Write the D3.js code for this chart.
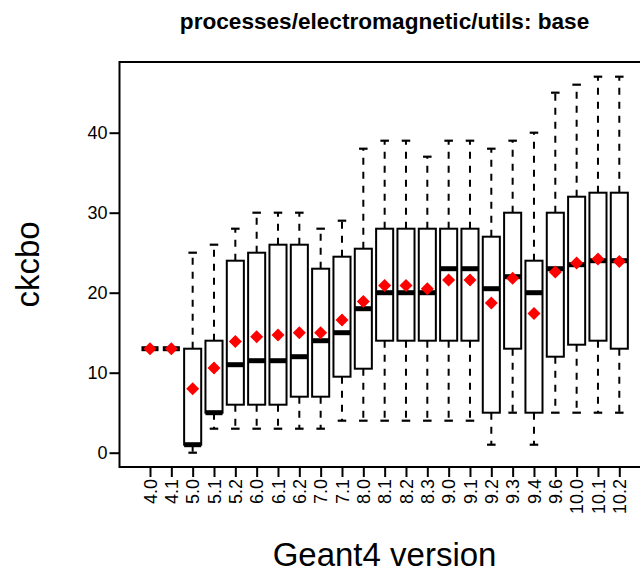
<!DOCTYPE html>
<html>
<head>
<meta charset="utf-8">
<script src="https://cdn.jsdelivr.net/npm/d3@7"></script>
<style>
  html, body { margin: 0; padding: 0; background: #fff; }
  svg { display: block; font-family: "Liberation Sans", Arial, Helvetica, sans-serif; }
</style>
</head>
<body>
<svg id="chart" width="640" height="572"></svg>
<script>
// ---- data ----
const versions = ["4.0","4.1","5.0","5.1","5.2","6.0","6.1","6.2","7.0","7.1","8.0","8.1","8.2","8.3","9.0","9.1","9.2","9.3","9.4","9.6","10.0","10.1","10.2"];
const whiskerLow  = [13,13,0,3,3,3,3,3,3,4,4,4,4,4,4,4,1,5,1,5,5,5,5];
const q1          = [13,13,1,5,6,6,6,7,7,9.5,10.5,14,14,14,14,14,5,13,5,12,13.5,14,13];
const medians     = [13,13,1,5,11,11.5,11.5,12,14,15,18,20,20,20,23,23,20.5,22,20,23,23.5,24,24];
const q3          = [13,13,13,14,24,25,26,26,23,24.5,25.5,28,28,28,28,28,27,30,24,30,32,32.5,32.5];
const whiskerHigh = [13,13,25,26,28,30,30,30,28,29,38,39,39,37,39,39,38,39,40,45,46,47,47];
const means       = [13,13,8,10.6,13.9,14.5,14.7,15,15,16.6,18.9,20.9,20.9,20.5,21.6,21.6,18.7,21.8,17.4,22.6,23.7,24.2,23.9];
const yTicks = [0,10,20,30,40];
const titleText = "processes/electromagnetic/utils: base";
const xLabel = "Geant4 version";
const yLabel = "ckcbo";

// ---- layout ----
const frame = { left: 119.5, right: 649.6, top: 62, bottom: 467 };
const svg = d3.select("#chart");

const x = d3.scalePoint().domain(versions).range([150, 619.3]);
const y = d3.scaleLinear().domain([0, 40]).range([452.7, 132.7]);
const step = x.step();
const boxHalf = step * 0.4;
const capHalf = boxHalf * 0.5;

const data = versions.map((v, i) => ({
  v, lo: whiskerLow[i], q1: q1[i], med: medians[i], q3: q3[i], hi: whiskerHigh[i], mean: means[i]
}));

const g = svg.append("g");

// whiskers (dashed)
g.selectAll("line.wl").data(data).join("line")
  .attr("x1", d => x(d.v)).attr("x2", d => x(d.v))
  .attr("y1", d => y(d.q1)).attr("y2", d => y(d.lo))
  .attr("stroke", "#000").attr("stroke-width", 2).attr("stroke-dasharray", "7,7");
g.selectAll("line.wh").data(data).join("line")
  .attr("x1", d => x(d.v)).attr("x2", d => x(d.v))
  .attr("y1", d => y(d.q3)).attr("y2", d => y(d.hi))
  .attr("stroke", "#000").attr("stroke-width", 2).attr("stroke-dasharray", "7,7");
// staples
["lo","hi"].forEach(k => {
  g.selectAll("line.cap" + k).data(data).join("line")
    .attr("x1", d => x(d.v) - capHalf).attr("x2", d => x(d.v) + capHalf)
    .attr("y1", d => y(d[k])).attr("y2", d => y(d[k]))
    .attr("stroke", "#000").attr("stroke-width", 2.2);
});
// boxes
g.selectAll("rect.box").data(data).join("rect")
  .attr("x", d => x(d.v) - boxHalf).attr("width", boxHalf * 2)
  .attr("y", d => y(d.q3)).attr("height", d => y(d.q1) - y(d.q3))
  .attr("fill", "#fff").attr("stroke", "#000").attr("stroke-width", 2);
// medians
g.selectAll("line.med").data(data).join("line")
  .attr("x1", d => x(d.v) - boxHalf).attr("x2", d => x(d.v) + boxHalf)
  .attr("y1", d => y(d.med)).attr("y2", d => y(d.med))
  .attr("stroke", "#000").attr("stroke-width", 5);
// means (red diamonds)
g.selectAll("path.mean").data(data).join("path")
  .attr("transform", d => `translate(${x(d.v)},${y(d.mean)})`)
  .attr("d", "M0,-6.5L6.5,0L0,6.5L-6.5,0Z")
  .attr("fill", "#ff0000");

// frame
svg.append("rect")
  .attr("x", frame.left).attr("y", frame.top)
  .attr("width", frame.right - frame.left).attr("height", frame.bottom - frame.top)
  .attr("fill", "none").attr("stroke", "#000").attr("stroke-width", 2);

// y axis
const yAxis = svg.append("g")
  .attr("transform", `translate(${frame.left},0)`)
  .call(d3.axisLeft(y).tickValues(yTicks).tickSize(10).tickPadding(2));
yAxis.select(".domain").remove();
yAxis.selectAll(".tick line").attr("stroke-width", 2);
yAxis.selectAll(".tick text").attr("font-size", 18).attr("font-family", "Liberation Sans, Arial, sans-serif").attr("fill", "#000");

// x axis
const xAxis = svg.append("g")
  .attr("transform", `translate(0,${frame.bottom})`)
  .call(d3.axisBottom(x).tickSize(10).tickPadding(2));
xAxis.select(".domain").remove();
xAxis.selectAll(".tick line").attr("stroke-width", 2);
xAxis.selectAll(".tick text")
  .attr("font-size", 18).attr("font-family", "Liberation Sans, Arial, sans-serif").attr("fill", "#000")
  .attr("transform", "rotate(-90)")
  .attr("text-anchor", "end")
  .attr("x", -12).attr("y", 0).attr("dy", "0.35em");

// title and labels
const cx = (frame.left + frame.right) / 2;
svg.append("text").attr("x", cx).attr("y", 29).attr("text-anchor", "middle")
  .attr("font-size", 22.6).attr("font-weight", "bold").text(titleText);
svg.append("text").attr("x", cx).attr("y", 566).attr("text-anchor", "middle")
  .attr("font-size", 33).text(xLabel);
svg.append("text").attr("transform", `translate(39,${(frame.top + frame.bottom) / 2}) rotate(-90)`)
  .attr("text-anchor", "middle").attr("font-size", 33).text(yLabel);
</script>
</body>
</html>
